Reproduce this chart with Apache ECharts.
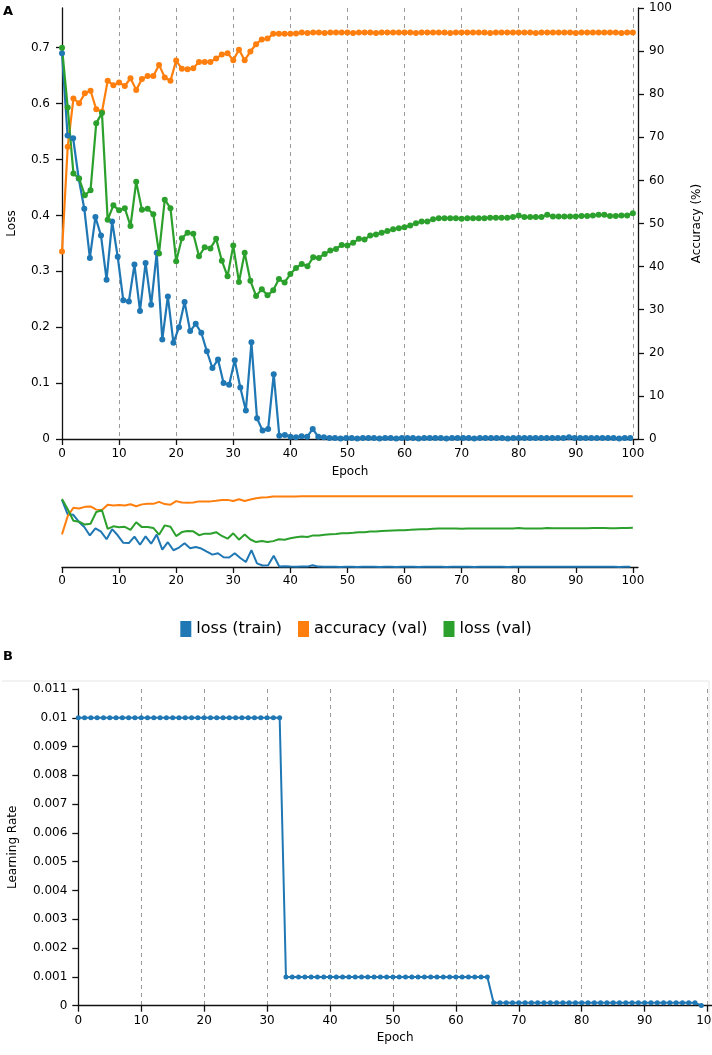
<!DOCTYPE html>
<html>
<head>
<meta charset="utf-8">
<script src="https://cdn.jsdelivr.net/npm/echarts@6/dist/echarts.min.js"></script>
<style>
html,body{margin:0;padding:0;background:#fff;}
#chart{width:712px;height:1055px;}
</style>
</head>
<body>
<div id="chart"></div>
<script>
// ---- data ----
// training loss is logged slightly more often than once per epoch
const TRAIN_STEP = 0.976; // epochs between two train-loss samples
const trainLoss = [
  0.69,0.543,0.538,0.466,0.412,0.324,0.397,0.364,0.285,0.389,
  0.326,0.248,0.246,0.312,0.229,0.315,0.24,0.333,0.178,0.255,
  0.172,0.2,0.245,0.193,0.206,0.19,0.157,0.127,0.142,0.1,
  0.097,0.141,0.092,0.051,0.173,0.037,0.015,0.018,0.116,0.006,
  0.007,0.004,0.003,0.005,0.004,0.018,0.004,0.003,0.002,0.002,
  0.001,0.002,0.002,0.001,0.002,0.002,0.002,0.001,0.002,0.002,
  0.001,0.002,0.002,0.002,0.001,0.002,0.002,0.002,0.002,0.001,
  0.002,0.002,0.002,0.002,0.001,0.002,0.002,0.002,0.002,0.002,
  0.001,0.002,0.002,0.002,0.002,0.002,0.002,0.002,0.002,0.002,
  0.002,0.003,0.002,0.002,0.002,0.002,0.002,0.002,0.002,0.002,
  0.001,0.002,0.002
];
// validation values, one per epoch 0..100
const valAccuracy = [
  43.5,67.8,79.0,77.9,80.2,80.8,76.5,75.9,83.1,82.1,
  82.7,81.9,83.7,81.0,83.5,84.2,84.2,86.8,83.9,83.1,
  87.8,85.9,85.8,86.0,87.5,87.5,87.5,88.3,89.2,89.5,
  87.9,90.3,87.9,89.9,91.6,92.7,92.9,94.0,94.0,94.0,
  94.0,94.1,94.3,94.2,94.3,94.3,94.2,94.3,94.3,94.3,
  94.3,94.2,94.3,94.3,94.3,94.2,94.3,94.3,94.3,94.3,
  94.3,94.3,94.2,94.3,94.3,94.3,94.3,94.3,94.2,94.3,
  94.3,94.3,94.3,94.3,94.3,94.2,94.3,94.3,94.3,94.3,
  94.3,94.3,94.3,94.2,94.3,94.3,94.3,94.3,94.3,94.3,
  94.2,94.3,94.3,94.3,94.3,94.3,94.3,94.3,94.2,94.3,
  94.3
];
const valLoss = [
  0.70,0.593,0.475,0.466,0.436,0.445,0.565,0.583,0.392,0.418,
  0.409,0.413,0.381,0.46,0.41,0.412,0.402,0.332,0.428,0.413,
  0.318,0.359,0.369,0.367,0.327,0.343,0.341,0.358,0.319,0.291,
  0.346,0.281,0.333,0.283,0.256,0.268,0.257,0.266,0.286,0.28,
  0.295,0.306,0.313,0.309,0.325,0.324,0.331,0.337,0.34,0.347,
  0.346,0.351,0.358,0.357,0.364,0.366,0.369,0.372,0.375,0.377,
  0.379,0.382,0.386,0.389,0.389,0.393,0.395,0.395,0.395,0.395,
  0.394,0.395,0.395,0.395,0.395,0.396,0.396,0.396,0.396,0.397,
  0.4,0.397,0.397,0.397,0.397,0.401,0.398,0.398,0.398,0.398,
  0.398,0.399,0.399,0.4,0.401,0.401,0.399,0.399,0.4,0.4,
  0.404
];
// learning rate, one per epoch 0..99
const learningRate = [
  0.01,0.01,0.01,0.01,0.01,0.01,0.01,0.01,0.01,0.01,
  0.01,0.01,0.01,0.01,0.01,0.01,0.01,0.01,0.01,0.01,
  0.01,0.01,0.01,0.01,0.01,0.01,0.01,0.01,0.01,0.01,
  0.01,0.01,0.01,0.001,0.001,0.001,0.001,0.001,0.001,0.001,
  0.001,0.001,0.001,0.001,0.001,0.001,0.001,0.001,0.001,0.001,
  0.001,0.001,0.001,0.001,0.001,0.001,0.001,0.001,0.001,0.001,
  0.001,0.001,0.001,0.001,0.001,0.001,0.0001,0.0001,0.0001,0.0001,
  0.0001,0.0001,0.0001,0.0001,0.0001,0.0001,0.0001,0.0001,0.0001,0.0001,
  0.0001,0.0001,0.0001,0.0001,0.0001,0.0001,0.0001,0.0001,0.0001,0.0001,
  0.0001,0.0001,0.0001,0.0001,0.0001,0.0001,0.0001,0.0001,0.0001,0.00001
];
const seriesNames = ['loss (train)', 'accuracy (val)', 'loss (val)'];
const colors = ['#1f77b4', '#ff7f0e', '#2ca02c'];

// ---- chart ----
const FONT = 'DejaVu Sans';
const chart = echarts.init(document.getElementById('chart'), null, {renderer: 'canvas'});
const trainPts = trainLoss.map((v, i) => [i * TRAIN_STEP, v]);
const accPts = valAccuracy.map((v, i) => [i, v]);
const vlossPts = valLoss.map((v, i) => [i, v]);
const lrPts = learningRate.map((v, i) => [i, v]);

const axisLine = {show: true, lineStyle: {color: '#111', width: 1.3}};
const axisTick = {show: true, length: 6, lineStyle: {color: '#111', width: 1.3}};
const lbl = (extra) => Object.assign({color: '#000', fontFamily: FONT, fontSize: 12}, extra || {});
const vgrid = {show: true, showMinLine: false, showMaxLine: false,
  lineStyle: {color: '#999', type: [4, 4], width: 1}};

function lineSeries(name, data, xi, yi, color, mini, extra) {
  return Object.assign({
    name: name, type: 'line', data: data, xAxisIndex: xi, yAxisIndex: yi,
    showSymbol: !mini, symbol: 'circle', symbolSize: mini ? 0 : 6,
    itemStyle: {color: color}, lineStyle: {color: color, width: mini ? 2 : 2.2},
    emphasis: {disabled: true}, animation: false, silent: true
  }, extra || {});
}

const option = {
  backgroundColor: '#fff',
  animation: false,
  textStyle: {fontFamily: FONT},
  legend: {
    data: seriesNames, top: 616, left: 'center',
    icon: 'rect', itemWidth: 11, itemHeight: 16, itemGap: 16,
    textStyle: {fontFamily: FONT, fontSize: 16, color: '#000'},
    selectedMode: false
  },
  graphic: [
    {type: 'text', left: 3, top: 5, style: {text: 'A', font: 'bold 13px "DejaVu Sans"', fill: '#000'}},
    {type: 'text', left: 3, top: 650, style: {text: 'B', font: 'bold 13px "DejaVu Sans"', fill: '#000'}},
    {type: 'line', shape: {x1: 2, y1: 681, x2: 709, y2: 681}, style: {stroke: '#e6e6e6', lineWidth: 1}},
    {type: 'line', shape: {x1: 709, y1: 681, x2: 709, y2: 1030}, style: {stroke: '#e6e6e6', lineWidth: 1}}
  ],
  grid: [
    {left: 62, top: 8, width: 576, height: 431, containLabel: false, outerBoundsMode: 'none'},
    {left: 62, top: 492, width: 576, height: 75, containLabel: false, outerBoundsMode: 'none'},
    {left: 78.3, top: 689, width: 633.7, height: 316.7, containLabel: false, outerBoundsMode: 'none'}
  ],
  xAxis: [
    {gridIndex: 0, type: 'value', min: 0, max: 100.9, interval: 10,
     axisLine: axisLine, axisTick: axisTick, splitLine: vgrid,
     axisLabel: lbl({margin: 9, showMaxLabel: false}),
     name: 'Epoch', nameLocation: 'middle', nameGap: 27,
     nameTextStyle: {fontFamily: FONT, fontSize: 12, color: '#000'}},
    {gridIndex: 1, type: 'value', min: 0, max: 100.9, interval: 10,
     axisLine: axisLine, axisTick: axisTick, splitLine: {show: false},
     axisLabel: lbl({margin: 8, showMaxLabel: false})},
    {gridIndex: 2, type: 'value', min: 0, max: 100.7, interval: 10,
     axisLine: axisLine, axisTick: axisTick, splitLine: vgrid,
     axisLabel: lbl({margin: 9, showMaxLabel: false}),
     name: 'Epoch', nameLocation: 'middle', nameGap: 26,
     nameTextStyle: {fontFamily: FONT, fontSize: 12, color: '#000'}}
  ],
  yAxis: [
    {gridIndex: 0, type: 'value', position: 'left', min: 0, max: 0.771, interval: 0.1,
     axisLine: axisLine, axisTick: axisTick, splitLine: {show: false},
     axisLabel: lbl({margin: 12, showMaxLabel: false}),
     name: 'Loss', nameLocation: 'middle', nameGap: 44, nameRotate: 90,
     nameTextStyle: {fontFamily: FONT, fontSize: 12, color: '#000'}},
    {gridIndex: 0, type: 'value', position: 'right', min: 0, max: 100, interval: 10,
     axisLine: axisLine, axisTick: axisTick, splitLine: {show: false},
     axisLabel: lbl({margin: 11}),
     name: 'Accuracy (%)', nameLocation: 'middle', nameGap: 53, nameRotate: 90,
     nameTextStyle: {fontFamily: FONT, fontSize: 12, color: '#000'}},
    {gridIndex: 1, type: 'value', min: 0, max: 0.771, show: false, splitLine: {show: false}},
    {gridIndex: 1, type: 'value', min: 0, max: 100, show: false, splitLine: {show: false}},
    {gridIndex: 2, type: 'value', position: 'left', min: 0, max: 0.011, interval: 0.001,
     axisLine: axisLine, axisTick: axisTick, splitLine: {show: false},
     axisLabel: lbl({margin: 11}),
     name: 'Learning Rate', nameLocation: 'middle', nameGap: 59, nameRotate: 90,
     nameTextStyle: {fontFamily: FONT, fontSize: 12, color: '#000'}}
  ],
  series: [
    lineSeries(seriesNames[0], trainPts, 0, 0, colors[0], false),
    lineSeries(seriesNames[1], accPts, 0, 1, colors[1], false),
    lineSeries(seriesNames[2], vlossPts, 0, 0, colors[2], false),
    lineSeries(seriesNames[0], trainPts, 1, 2, colors[0], true),
    lineSeries(seriesNames[1], accPts, 1, 3, colors[1], true),
    lineSeries(seriesNames[2], vlossPts, 1, 2, colors[2], true),
    lineSeries('Learning Rate', lrPts, 2, 4, colors[0], false, {symbolSize: 5, lineStyle: {color: colors[0], width: 2}})
  ]
};
chart.setOption(option);
</script>
</body>
</html>
